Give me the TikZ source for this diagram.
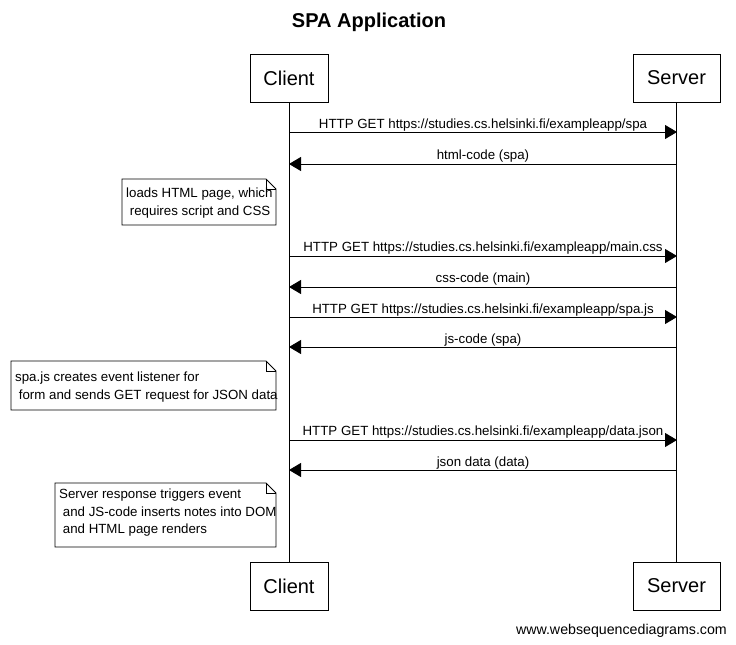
\documentclass[tikz,border=0pt]{standalone}
\usepackage{fontspec}
\setmainfont{Liberation Sans}
\usetikzlibrary{arrows.meta}
\begin{document}
\begin{tikzpicture}[x=1pt,y=-1pt,
  actor/.style={draw,line width=1pt,minimum width=78pt,minimum height=48pt,inner sep=0pt,font=\fontsize{20}{24}\selectfont},
  msg/.style={line width=0.9pt,-{Triangle[length=12pt,width=14pt]}},
  lbl/.style={anchor=base,inner sep=0pt,font=\fontsize{13.3}{15}\selectfont},
  notetxt/.style={anchor=west,inner sep=0pt,align=left,font=\fontsize{13.3}{17.2}\selectfont},
  notebox/.style={draw,line width=0.9pt,fill=white},
  life/.style={line width=0.9pt}]
\useasboundingbox (0,0) rectangle (736,645);
\node[font=\fontsize{20}{24}\selectfont\bfseries] (title) at (369,22) {SPA Application};
\node[actor] (ct) at (289,78) {Client};
\node[actor,minimum width=87pt] (st) at (676.5,78) {Server};
\node[actor] (cb) at (289,586) {Client};
\node[actor,minimum width=87pt] (sb) at (676.5,586) {Server};
\draw[life] (ct.south) -- (cb.north);
\draw[life] (st.south) -- (sb.north);
% messages
\foreach \n/\y in {1/132,2/164,4/256,5/287,6/317,7/347,9/440,10/470}{
  \coordinate (c\n) at (289,\y);
  \coordinate (s\n) at (677,\y);
}
\draw[msg] (c1) -- (s1);
\node[lbl] (l1) at (483,128) {HTTP GET https://studies.cs.helsinki.fi/exampleapp/spa};
\draw[msg] (s2) -- (c2);
\node[lbl] (l2) at (483,159) {html-code (spa)};
\draw[msg] (c4) -- (s4);
\node[lbl] (l4) at (483,251) {HTTP GET https://studies.cs.helsinki.fi/exampleapp/main.css};
\draw[msg] (s5) -- (c5);
\node[lbl] (l5) at (483,282) {css-code (main)};
\draw[msg] (c6) -- (s6);
\node[lbl] (l6) at (483,313) {HTTP GET https://studies.cs.helsinki.fi/exampleapp/spa.js};
\draw[msg] (s7) -- (c7);
\node[lbl] (l7) at (483,343) {js-code (spa)};
\draw[msg] (c9) -- (s9);
\node[lbl] (l9) at (483,435) {HTTP GET https://studies.cs.helsinki.fi/exampleapp/data.json};
\draw[msg] (s10) -- (c10);
\node[lbl] (l10) at (483,466) {json data (data)};
% notes
\draw[notebox] (122,179) -- (266,179) -- (276,189) -- (276,225) -- (122,225) -- cycle;
\draw[line width=0.9pt] (266,179) -- (266,189) -- (276,189);
\node[notetxt] (n1) at (126,203) {loads HTML page, which\\\ requires script and CSS};
\draw[notebox] (11,361) -- (266,361) -- (276,371) -- (276,410) -- (11,410) -- cycle;
\draw[line width=0.9pt] (266,361) -- (266,371) -- (276,371);
\node[notetxt] (n2) at (15,387) {spa.js creates event listener for\\\ form and sends GET request for JSON data};
\draw[notebox] (55,483) -- (266,483) -- (276,493) -- (276,547) -- (55,547) -- cycle;
\draw[line width=0.9pt] (266,483) -- (266,493) -- (276,493);
\node[notetxt,anchor=north west] (n3) at (59,489) {Server response triggers event\\\ and JS-code inserts notes into DOM\\\ and HTML page renders};
\node[anchor=base east,inner sep=0pt,font=\fontsize{14.2}{16}\selectfont] (wm) at (727,634) {www.websequencediagrams.com};
\end{tikzpicture}
\end{document}
